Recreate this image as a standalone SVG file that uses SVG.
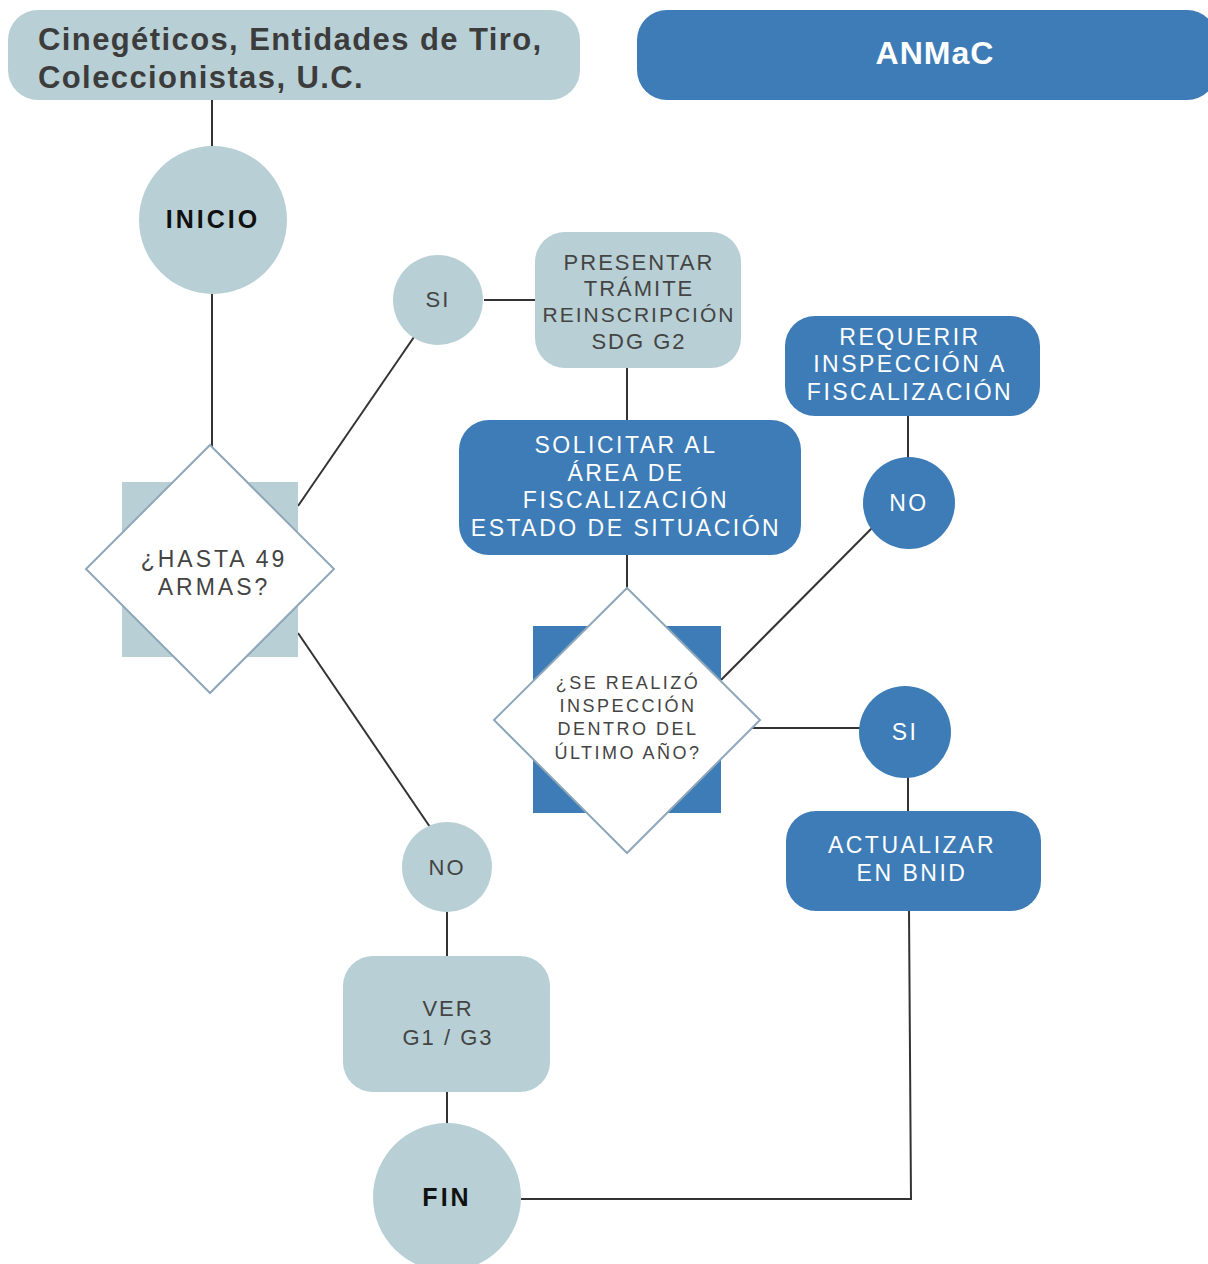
<svg xmlns="http://www.w3.org/2000/svg" width="1208" height="1264" viewBox="0 0 1208 1264">
<style>
.lt{fill:#b8d0d5}
.bl{fill:#3d7cb7}
.dia{fill:#fff;stroke:#8fa7b8;stroke-width:2}
.conn{stroke:#333;stroke-width:2;fill:none}
text{font-family:"Liberation Sans",Arial,sans-serif;text-anchor:middle}
.dk{fill:#444;font-size:22px;letter-spacing:2px}
.wt{fill:#fff;font-size:23px;letter-spacing:2.5px}
.bold{font-weight:bold;fill:#111;font-size:25px;letter-spacing:3px}
.hd{font-weight:bold;font-size:31px;fill:#3c3c3c;text-anchor:start;letter-spacing:1.4px}
</style>
<rect width="1208" height="1264" fill="#fff"/>
<g id="connectors">
<line class="conn" x1="212" y1="100" x2="212" y2="148"/>
<line class="conn" x1="212" y1="294" x2="212" y2="450"/>
<line class="conn" x1="298" y1="506" x2="414" y2="337"/>
<line class="conn" x1="484" y1="300" x2="536" y2="300"/>
<line class="conn" x1="627" y1="368" x2="627" y2="420"/>
<line class="conn" x1="627" y1="555" x2="627" y2="590"/>
<line class="conn" x1="721" y1="680" x2="872" y2="528"/>
<line class="conn" x1="908" y1="415" x2="908" y2="458"/>
<line class="conn" x1="752" y1="728" x2="861" y2="728"/>
<line class="conn" x1="908" y1="777" x2="908" y2="812"/>
<polyline class="conn" points="909,910 911,1199 521,1199"/>
<line class="conn" x1="298" y1="633" x2="430" y2="827"/>
<line class="conn" x1="447" y1="912" x2="447" y2="957"/>
<line class="conn" x1="447" y1="1091" x2="447" y2="1124"/>
</g>
<g id="header-left">
<rect class="lt" x="8" y="10" width="572" height="90" rx="30"/>
<text class="hd" x="38" y="50">Cinegéticos, Entidades de Tiro,</text>
<text class="hd" x="38" y="88">Coleccionistas, U.C.</text>
</g>
<g id="header-right">
<rect class="bl" x="637" y="10" width="580" height="90" rx="30"/>
<text x="935" y="64" style="font-weight:bold;font-size:32px;fill:#fff;letter-spacing:1px">ANMaC</text>
</g>
<g id="inicio">
<circle class="lt" cx="213" cy="220" r="74"/>
<text class="bold" x="213" y="228">INICIO</text>
</g>
<g id="dec-armas">
<rect class="lt" x="122" y="482" width="176" height="175"/>
<polygon class="dia" points="210,445 334,569 210,693 86,569"/>
<text class="dk" x="214" y="567" style="font-size:23px;letter-spacing:3px">¿HASTA 49</text>
<text class="dk" x="214" y="595" style="font-size:23px;letter-spacing:3px">ARMAS?</text>
</g>
<g id="si1">
<circle class="lt" cx="438" cy="300" r="45"/>
<text class="dk" x="438" y="307">SI</text>
</g>
<g id="presentar">
<rect class="lt" x="535" y="232" width="206" height="136" rx="30"/>
<text class="dk" x="639" y="270">PRESENTAR</text>
<text class="dk" x="639" y="296">TRÁMITE</text>
<text class="dk" x="639" y="322" style="font-size:21px">REINSCRIPCIÓN</text>
<text class="dk" x="639" y="349">SDG G2</text>
</g>
<g id="solicitar">
<rect class="bl" x="459" y="420" width="342" height="135" rx="30"/>
<text class="wt" x="626" y="453">SOLICITAR AL</text>
<text class="wt" x="626" y="481">ÁREA DE</text>
<text class="wt" x="626" y="508">FISCALIZACIÓN</text>
<text class="wt" x="626" y="536">ESTADO DE SITUACIÓN</text>
</g>
<g id="dec-inspeccion">
<rect class="bl" x="533" y="626" width="188" height="187"/>
<polygon class="dia" points="627,588 760,720 627,853 494,720"/>
<text class="dk" x="628" y="689" style="font-size:18px;letter-spacing:2.5px">¿SE REALIZÓ</text>
<text class="dk" x="628" y="712" style="font-size:18px;letter-spacing:2.5px">INSPECCIÓN</text>
<text class="dk" x="628" y="735" style="font-size:18px;letter-spacing:2.5px">DENTRO DEL</text>
<text class="dk" x="628" y="759" style="font-size:18px;letter-spacing:2.5px">ÚLTIMO AÑO?</text>
</g>
<g id="requerir">
<rect class="bl" x="785" y="316" width="255" height="100" rx="30"/>
<text class="wt" x="910" y="345">REQUERIR</text>
<text class="wt" x="910" y="372">INSPECCIÓN A</text>
<text class="wt" x="910" y="400">FISCALIZACIÓN</text>
</g>
<g id="no2">
<circle class="bl" cx="909" cy="503" r="46"/>
<text class="wt" x="909" y="511">NO</text>
</g>
<g id="si2">
<circle class="bl" cx="905" cy="732" r="46"/>
<text class="wt" x="905" y="740">SI</text>
</g>
<g id="actualizar">
<rect class="bl" x="786" y="811" width="255" height="100" rx="30"/>
<text class="wt" x="912" y="853">ACTUALIZAR</text>
<text class="wt" x="912" y="881">EN BNID</text>
</g>
<g id="no1">
<circle class="lt" cx="447" cy="867" r="45"/>
<text class="dk" x="447" y="875">NO</text>
</g>
<g id="ver">
<rect class="lt" x="343" y="956" width="207" height="136" rx="30"/>
<text class="dk" x="448" y="1016">VER</text>
<text class="dk" x="448" y="1045">G1 / G3</text>
</g>
<g id="fin">
<circle class="lt" cx="447" cy="1197" r="74"/>
<text class="bold" x="447" y="1206">FIN</text>
</g>
</svg>
